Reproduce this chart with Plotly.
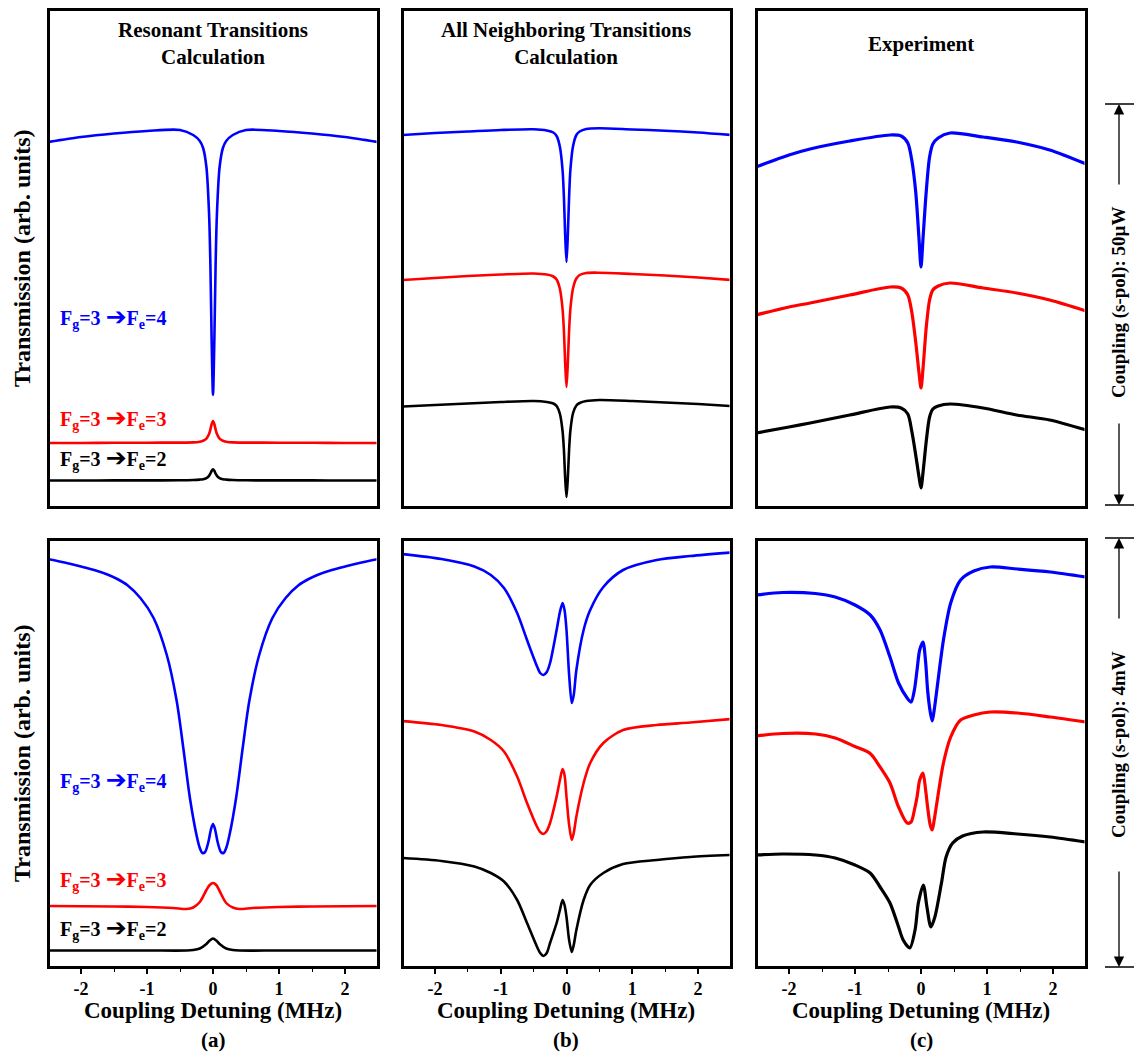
import plotly.graph_objects as go

# ---------------- data (x: coupling detuning in MHz, y: transmission, arb. units) -------------
a_top_x = [-2.5, -2, -1.5, -1, -0.5, -0.3, -0.2, -0.15, -0.1, -0.06, -0.04, -0.02, 0,
           0.02, 0.04, 0.06, 0.1, 0.15, 0.2, 0.3, 0.5, 1, 1.5, 2, 2.5]
a_top_blue = [365, 370, 373.5, 376, 377, 372, 366, 359, 340, 294, 244, 165, 112,
              165, 244, 294, 340, 359, 366, 372, 377, 376, 373.5, 370, 365]
a_top_red = [64, 64, 64.2, 64.3, 64.4, 64.6, 65.3, 66.2, 68.4, 73, 77.4, 83, 86,
             83, 77.4, 73, 68.4, 66.2, 65.3, 64.6, 64.4, 64.3, 64.2, 64, 64]
a_top_black = [26.5, 26.5, 26.6, 26.6, 26.7, 27, 27.4, 27.8, 28.9, 31.2, 33.4, 36.2, 37.7,
               36.2, 33.4, 31.2, 28.9, 27.8, 27.4, 27, 26.7, 26.6, 26.6, 26.5, 26.5]

b_top_x = a_top_x
b_top_blue = [372, 374, 375.5, 377, 377.7, 376.5, 374.5, 371, 360, 337, 311, 272, 245,
              272, 311, 338, 361, 372, 375.5, 378, 378.7, 377.5, 376.3, 374.5, 372]
b_top_red = [227, 229, 231, 232.5, 233.5, 232.5, 230.5, 227.5, 218, 198, 177, 144, 120,
             144, 177, 199, 219, 228.5, 232, 234, 234.3, 233, 231.5, 229.5, 227]
b_top_black = [100.5, 102, 103.5, 105, 106, 105, 103.5, 101, 93, 76, 58, 29, 10,
               29, 58, 77, 94, 101.5, 104, 106, 107, 106, 104.5, 103, 101]

c_top_x = [-2.5, -2, -1.68, -1.08, -0.47, -0.3, -0.2, -0.14, -0.08, -0.03, 0, 0.03, 0.08, 0.13,
           0.18, 0.26, 0.44, 0.94, 1.45, 1.95, 2.5]
c_top_blue = [340, 352, 358, 366, 372, 371, 364, 347, 315, 268, 240, 268, 316, 350,
              363, 369, 374, 370, 365, 357, 343]
c_top_red = [192, 200, 204, 212, 220, 219, 212, 195, 165, 134, 119, 138, 180, 207,
             217, 221, 224, 219, 214, 207, 196]
c_top_black = [74, 80, 84, 92, 100, 99, 93, 76, 52, 30, 19, 34, 66, 90,
               98, 101, 103, 99, 92, 87, 77]

a_bot_x = [-2.5, -2.25, -2, -1.8, -1.6, -1.45, -1.3, -1.1, -0.9, -0.7, -0.55, -0.45, -0.35, -0.25,
           -0.2, -0.16, -0.12, -0.07, -0.03, 0, 0.03, 0.07, 0.12, 0.16, 0.2, 0.25, 0.35, 0.45,
           0.55, 0.7, 0.9, 1.1, 1.3, 1.45, 1.6, 1.8, 2, 2.25, 2.5]
a_bot_blue = [408, 404.5, 400.5, 397, 392.5, 388, 382, 369, 349, 312, 266, 219, 169, 132,
              119, 114, 115, 125, 138, 143, 138, 125, 115, 114, 119, 132, 169, 219,
              266, 312, 349, 369, 382, 388, 392.5, 397, 400.5, 404.5, 408]
a_bot_red_x = [-2.5, -1.5, -1, -0.6, -0.4, -0.3, -0.2, -0.1, -0.05, 0, 0.05, 0.1, 0.2, 0.3,
               0.4, 0.6, 1, 1.5, 2.5]
a_bot_red = [61, 60.5, 60, 59, 58, 59.5, 65, 77, 82, 84, 82, 76, 64, 59.5, 58, 59, 60, 60.5, 61]
a_bot_black_x = [-2.5, -1, -0.4, -0.3, -0.2, -0.1, -0.05, 0, 0.05, 0.1, 0.2, 0.3, 0.4, 1, 2.5]
a_bot_black = [16.5, 16.5, 16.5, 17, 18.5, 23, 26.5, 28.5, 26.5, 23, 18.5, 17, 16.5, 16.5, 16.5]

b_bot_x = [-2.5, -1.9, -1.4, -1.15, -0.95, -0.75, -0.6, -0.45, -0.4, -0.35, -0.3, -0.25, -0.15,
           -0.1, -0.06, -0.03, 0, 0.04, 0.08, 0.11, 0.15, 0.26, 0.36, 0.56, 0.86, 1.37, 1.88, 2.5]
b_bot_blue = [413, 408, 400.5, 392, 379, 354, 327, 301, 294, 292, 295, 304, 337, 355, 364, 357,
              337, 292, 264, 272, 297, 337, 357, 380, 397, 407, 411, 414.5]
b_bot_red = [246, 242, 235.5, 227, 215.5, 190.5, 164, 140.5, 135, 133, 136, 144, 170.5, 187, 198,
             192, 170, 142, 127, 134, 150.5, 184, 204, 224, 237, 242, 244.5, 248]
b_bot_black = [109, 106, 100.5, 94, 85.5, 67, 44, 20.5, 14, 11, 14, 24, 44, 57, 67, 62, 50, 27,
               15, 22, 37, 67, 82, 94, 103, 107, 110, 112]

c_bot_x = [-2.5, -2.1, -1.6, -1.3, -1, -0.77, -0.62, -0.47, -0.34, -0.21, -0.15, -0.1, -0.06,
           -0.02, 0.03, 0.07, 0.1, 0.14, 0.17, 0.2, 0.24, 0.34, 0.45, 0.6, 0.8, 1.05, 1.46, 1.96, 2.5]
c_bot_blue = [372, 374.5, 373.5, 370, 362, 352, 337, 310, 284, 269, 265, 277, 297, 317, 325, 305,
              277, 255, 246, 257, 277, 327, 364, 387, 396, 400, 398, 395, 390]
c_bot_red = [231, 233.5, 233, 229, 220.5, 213.5, 200, 184, 160, 144, 145, 157, 170, 187, 194, 177,
             160, 142, 137, 147, 164, 204, 230, 247, 252, 255, 254, 250, 245]
c_bot_black_x = [-2.5, -2.1, -1.6, -1.3, -1, -0.77, -0.62, -0.47, -0.34, -0.27, -0.17, -0.09, -0.04,
                 0.035, 0.09, 0.15, 0.21, 0.31, 0.38, 0.48, 0.63, 0.94, 1.46, 1.96, 2.5]
c_bot_black = [112, 113, 112, 109, 102, 94, 80, 64, 40, 27, 19, 37, 64, 82, 60, 40, 50, 84, 110,
               124, 131, 135, 133, 130, 125]

tick_vals = [-2, -1, 0, 1, 2]
tick_text = ["-2", "-1", "0", "1", "2"]
minor_vals = [-2.5, -1.5, -0.5, 0.5, 1.5, 2.5]

column_titles = ["Resonant Transitions<br>Calculation",
                 "All Neighboring Transitions<br>Calculation",
                 "Experiment"]
panel_letters = ["(a)", "(b)", "(c)"]
x_title = "Coupling Detuning (MHz)"
y_title = "Transmission (arb. units)"
power_labels = ["Coupling (s-pol): 50\u00b5W", "Coupling (s-pol): 4mW"]
ARW = "<span style='font-size:25px'>\u2794</span>"
transition_labels = ["F<sub>g</sub>=3 " + ARW + "F<sub>e</sub>=4",
                     "F<sub>g</sub>=3 " + ARW + "F<sub>e</sub>=3",
                     "F<sub>g</sub>=3 " + ARW + "F<sub>e</sub>=2"]

BLUE, RED, BLACK = "#0000ff", "#ff0000", "#000000"

# ---------------- layout geometry ----------------
W, H = 1138, 1058
def PX(x): return x / W
def PY(y): return 1 - y / H

cols = [(48, 378), (402, 731), (756, 1086)]
rows = [(9.5, 507), (539, 967)]
LW = 3
ins = LW / 2
FONT = "Liberation Serif, Times New Roman, serif"

fig = go.Figure()

panels = {
    (0, 0): [(a_top_x, a_top_blue, BLUE), (a_top_x, a_top_red, RED), (a_top_x, a_top_black, BLACK)],
    (0, 1): [(b_top_x, b_top_blue, BLUE), (b_top_x, b_top_red, RED), (b_top_x, b_top_black, BLACK)],
    (0, 2): [(c_top_x, c_top_blue, BLUE), (c_top_x, c_top_red, RED), (c_top_x, c_top_black, BLACK)],
    (1, 0): [(a_bot_x, a_bot_blue, BLUE), (a_bot_red_x, a_bot_red, RED), (a_bot_black_x, a_bot_black, BLACK)],
    (1, 1): [(b_bot_x, b_bot_blue, BLUE), (b_bot_x, b_bot_red, RED), (b_bot_x, b_bot_black, BLACK)],
    (1, 2): [(c_bot_x, c_bot_blue, BLUE), (c_bot_x, c_bot_red, RED), (c_bot_black_x, c_bot_black, BLACK)],
}

layout = dict(width=W, height=H, margin=dict(l=0, r=0, t=0, b=0),
              paper_bgcolor="white", plot_bgcolor="white", showlegend=False,
              font=dict(family=FONT, color="black"))

for (r, c), series in panels.items():
    k = r * 3 + c + 1
    xs = "" if k == 1 else str(k)
    for xv, yv, col in series:
        fig.add_trace(go.Scatter(x=xv, y=yv, mode="lines",
                                 line=dict(color=col, width=3.2 if c == 2 else 2.6,
                                           shape="spline", smoothing=0.8),
                                 xaxis="x" + xs, yaxis="y" + xs, hoverinfo="skip"))
    c0, c1 = cols[c]
    r0, r1 = rows[r]
    mhz = (c1 - c0) / 5.0
    xa = dict(domain=[PX(c0 + ins), PX(c1 - ins)], range=[-2.5 + ins / mhz, 2.5 - ins / mhz],
              anchor="y" + xs, showline=True, mirror=True, linewidth=LW, linecolor="black",
              showgrid=False, zeroline=False, fixedrange=True)
    if r == 1:
        xa.update(tickmode="array", tickvals=tick_vals, ticktext=tick_text, ticks="outside",
                  ticklen=5, tickwidth=1.5, tickcolor="black",
                  tickfont=dict(family=FONT, size=18, color="black", weight="bold"),
                  minor=dict(tickmode="array", tickvals=minor_vals, ticks="outside",
                             ticklen=3, tickwidth=1.2, tickcolor="black"))
    else:
        xa.update(showticklabels=False, ticks="")
    ya = dict(domain=[PY(r1 - ins), PY(r0 + ins)], range=[ins, (r1 - r0) - ins],
              anchor="x" + xs, showline=True, mirror=True, linewidth=LW, linecolor="black",
              showgrid=False, zeroline=False, showticklabels=False, ticks="", fixedrange=True)
    layout["xaxis" + xs] = xa
    layout["yaxis" + xs] = ya

fig.update_layout(**layout)

ann = []
# column titles
title_x = [213, 566, 921]
for i, t in enumerate(column_titles):
    ann.append(dict(x=PX(title_x[i]), y=PY(44), xref="paper", yref="paper", text="<b>" + t + "</b>",
                    showarrow=False, xanchor="center", yanchor="middle",
                    font=dict(family=FONT, size=21, color="black")))
    ann.append(dict(x=PX(title_x[i]), y=PY(1010), xref="paper", yref="paper", text="<b>" + x_title + "</b>",
                    showarrow=False, xanchor="center", yanchor="middle",
                    font=dict(family=FONT, size=23, color="black")))
    ann.append(dict(x=PX(title_x[i]), y=PY(1040), xref="paper", yref="paper",
                    text="<b>" + panel_letters[i] + "</b>",
                    showarrow=False, xanchor="center", yanchor="middle",
                    font=dict(family=FONT, size=21, color="black")))
# y titles
for yc in [258, 753]:
    ann.append(dict(x=PX(22), y=PY(yc), xref="paper", yref="paper", text="<b>" + y_title + "</b>",
                    showarrow=False, textangle=-90, xanchor="center", yanchor="middle",
                    font=dict(family=FONT, size=24, color="black")))
# transition labels
lab_y = [[317, 418, 458], [780, 879, 929]]
lab_col = [BLUE, RED, BLACK]
for r in range(2):
    for i in range(3):
        ann.append(dict(x=PX(58), y=PY(lab_y[r][i]), xref="paper", yref="paper",
                        text="<b>" + transition_labels[i] + "</b>", showarrow=False,
                        xanchor="left", yanchor="middle",
                        font=dict(family="Liberation Serif, DejaVu Sans, serif", size=20, color=lab_col[i])))
# power labels and arrows
XA = 1119
spans = [(104, 505, 186, 422, 303), (538, 967, 620, 870, 745)]
shapes = []
for i, (top, bot, t_end, b_start, mid) in enumerate(spans):
    ann.append(dict(x=PX(XA), y=PY(mid), xref="paper", yref="paper", text="<b>" + power_labels[i] + "</b>",
                    showarrow=False, textangle=-90, xanchor="center", yanchor="middle",
                    font=dict(family=FONT, size=19, color="black")))
    ann.append(dict(x=PX(XA), y=PY(top), xref="paper", yref="paper", text="", showarrow=True,
                    ax=0, ay=t_end - top, arrowhead=2, arrowsize=1.6, arrowwidth=1.3,
                    arrowcolor="black", standoff=0))
    ann.append(dict(x=PX(XA), y=PY(bot), xref="paper", yref="paper", text="", showarrow=True,
                    ax=0, ay=b_start - bot, arrowhead=2, arrowsize=1.6, arrowwidth=1.3,
                    arrowcolor="black", standoff=0))
    for yy in (top, bot):
        shapes.append(dict(type="line", xref="paper", yref="paper", x0=PX(1105), x1=PX(1134),
                           y0=PY(yy), y1=PY(yy), line=dict(color="black", width=1.5)))

fig.update_layout(annotations=ann, shapes=shapes)
fig.write_html("out.html", config={"displayModeBar": False},
               post_script="document.body.style.margin='0';document.body.style.overflow='hidden';")
